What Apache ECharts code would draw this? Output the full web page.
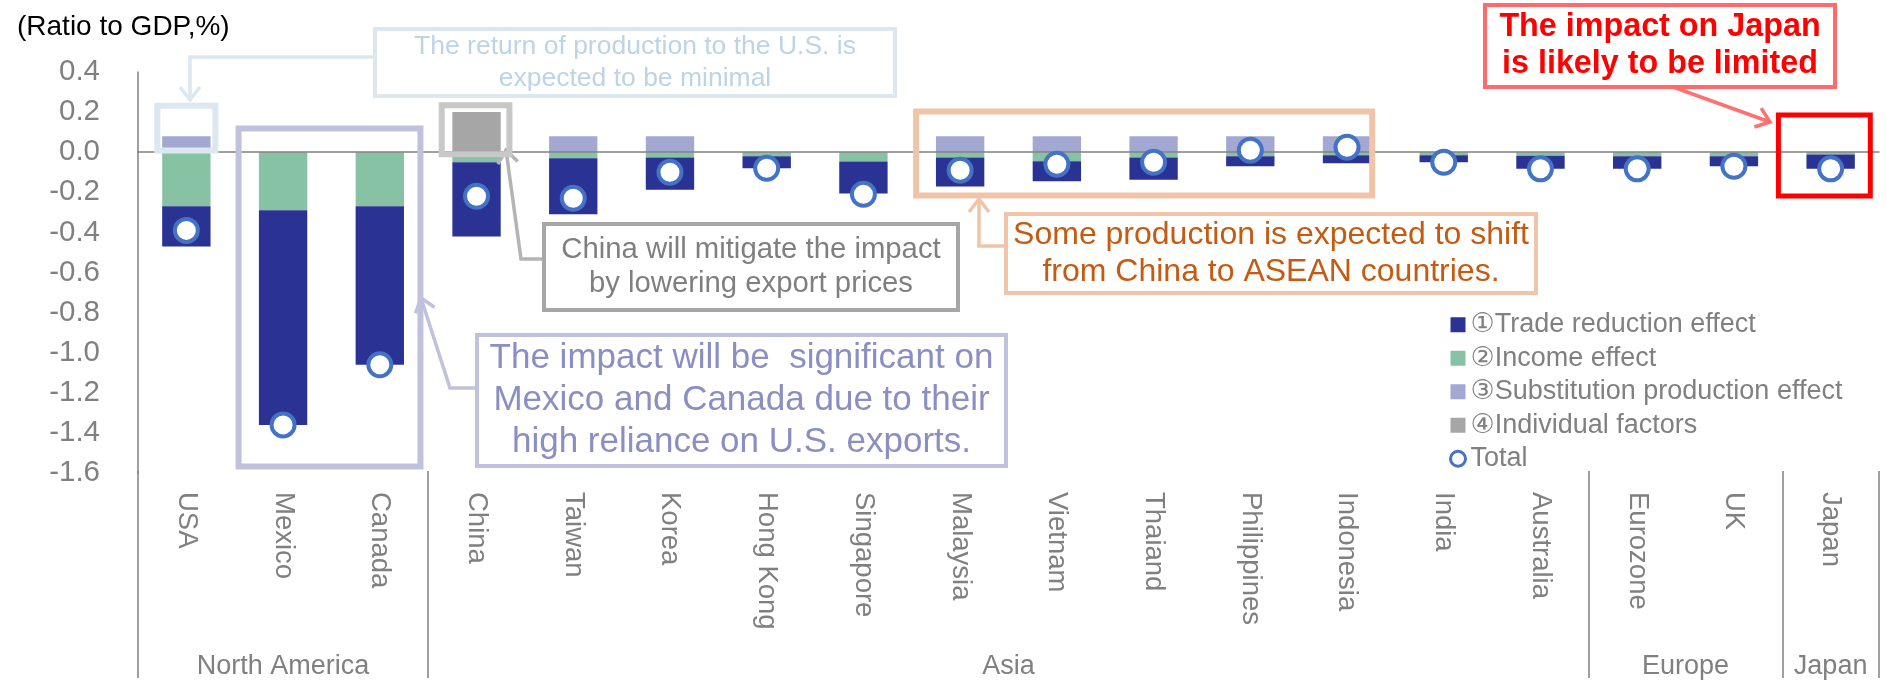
<!DOCTYPE html>
<html>
<head>
<meta charset="utf-8">
<script src="https://cdn.jsdelivr.net/npm/echarts@6/dist/echarts.min.js"></script>
<style>
  html, body { margin: 0; padding: 0; background: #fff; }
  #main { width: 1887px; height: 680px; }
</style>
</head>
<body>
<div id="main"></div>
<script>
// data (ratio to GDP, %)
var countries = ['USA', 'Mexico', 'Canada', 'China', 'Taiwan', 'Korea', 'Hong Kong', 'Singapore', 'Malaysia',
  'Vietnam', 'Thaiand', 'Philippines', 'Indonesia', 'India', 'Australia', 'Eurozone', 'UK', 'Japan'];
var tradeEffect = [-0.20, -1.07, -0.79, -0.37, -0.28, -0.16, -0.06, -0.16, -0.145, -0.10, -0.11, -0.05, -0.04, -0.035, -0.065, -0.063, -0.05, -0.07];
var incomeEffect = [-0.27, -0.29, -0.27, -0.05, -0.03, -0.027, -0.02, -0.046, -0.026, -0.045, -0.027, -0.02, -0.015, -0.015, -0.018, -0.02, -0.02, -0.012];
var substitutionEffect = [0.08, 0, 0, 0, 0.08, 0.08, 0, 0, 0.08, 0.08, 0.08, 0.08, 0.08, 0, 0, 0, 0, 0];
var individualFactors = [0, 0, 0, 0.20, 0, 0, 0, 0, 0, 0, 0, 0, 0, 0, 0, 0, 0, 0];
var total = [-0.39, -1.36, -1.06, -0.22, -0.23, -0.10, -0.08, -0.21, -0.09, -0.06, -0.05, 0.01, 0.025, -0.05, -0.083, -0.083, -0.07, -0.083];
var groupNames = ['North America', 'Asia', 'Europe', 'Japan'];
var groupSizes = [3, 12, 2, 1];
var seriesNames = ['①Trade reduction effect', '②Income effect', '③Substitution production effect', '④Individual factors', 'Total'];
var yMin = -1.6, yMax = 0.4, yStep = 0.2;

// group edges / centres on a 0..n value axis
var groupEdges = [0], groupCenters = [];
groupSizes.forEach(function (s) {
  var start = groupEdges[groupEdges.length - 1];
  groupCenters.push(start + s / 2);
  groupEdges.push(start + s);
});

var FONT = "'Liberation Sans', Arial, 'DejaVu Sans', 'Noto Sans CJK JP', sans-serif";
var GRAY = '#808080';
var gridBox = { left: 138, right: 8, top: 72, bottom: 207 };

var chart = echarts.init(document.getElementById('main'));
chart.setOption({
  backgroundColor: '#fff',
  animation: false,
  textStyle: { fontFamily: FONT },
  title: {
    text: '(Ratio to GDP,%)', left: 12, top: 8,
    textStyle: { fontSize: 28, fontWeight: 'normal', color: '#000', fontFamily: FONT }
  },
  legend: {
    orient: 'vertical', left: 1444, top: 303,
    itemWidth: 15, itemHeight: 15, itemGap: 0,
    textStyle: { fontSize: 27, color: GRAY, lineHeight: 33.5, fontFamily: FONT },
    data: [
      { name: seriesNames[0], icon: 'rect' },
      { name: seriesNames[1], icon: 'rect' },
      { name: seriesNames[2], icon: 'rect' },
      { name: seriesNames[3], icon: 'rect' },
      { name: seriesNames[4], icon: 'circle', itemStyle: { color: '#fff', borderColor: '#4472C4', borderWidth: 3 } }
    ]
  },
  grid: [Object.assign({}, gridBox), Object.assign({}, gridBox), Object.assign({}, gridBox)],
  xAxis: [
    { // zero line
      gridIndex: 0, type: 'category', data: countries, z: 5,
      axisLine: { onZero: true, lineStyle: { color: GRAY, width: 1.5 } },
      axisTick: { show: false }, axisLabel: { show: false }
    },
    { // country labels
      gridIndex: 1, type: 'category', data: countries, position: 'bottom',
      axisLine: { show: false, onZero: false }, axisTick: { show: false },
      axisLabel: { interval: 0, rotate: -90, margin: 19, fontSize: 27.5, color: GRAY, fontFamily: FONT }
    },
    { // region separators and names
      gridIndex: 2, type: 'value', min: 0, max: countries.length, position: 'bottom',
      axisLine: { show: false, onZero: false }, splitLine: { show: false },
      axisTick: { show: true, length: 207, customValues: groupEdges, lineStyle: { color: GRAY, width: 1.5 } },
      axisLabel: {
        customValues: groupCenters, margin: 182, fontSize: 27, color: GRAY, fontFamily: FONT,
        formatter: function (v) { return groupNames[groupCenters.indexOf(v)] || ''; }
      }
    }
  ],
  yAxis: [
    {
      gridIndex: 0, type: 'value', min: yMin, max: yMax, interval: yStep,
      axisLine: { show: true, lineStyle: { color: GRAY, width: 1.5 } },
      axisTick: { show: false }, splitLine: { show: false },
      axisLabel: {
        margin: 38, fontSize: 29.5, color: GRAY, fontFamily: FONT,
        formatter: function (v) { return Math.abs(v) < 1e-9 ? '0.0' : v.toFixed(1); }
      }
    },
    { gridIndex: 1, type: 'value', min: yMin, max: yMax, show: false },
    { gridIndex: 2, type: 'value', min: yMin, max: yMax, show: false }
  ],
  series: [
    { name: seriesNames[1], type: 'bar', stack: 'all', barWidth: '50%', data: incomeEffect, itemStyle: { color: '#87C2A5' } },
    { name: seriesNames[0], type: 'bar', stack: 'all', barWidth: '50%', data: tradeEffect, itemStyle: { color: '#2A3293' } },
    { name: seriesNames[2], type: 'bar', stack: 'all', barWidth: '50%', data: substitutionEffect, itemStyle: { color: '#A3A8D3' } },
    { name: seriesNames[3], type: 'bar', stack: 'all', barWidth: '50%', data: individualFactors, itemStyle: { color: '#A6A6A6' } },
    {
      name: seriesNames[4], type: 'scatter', data: total, z: 10,
      symbol: 'circle', symbolSize: 23,
      itemStyle: { color: '#fff', borderColor: '#4472C4', borderWidth: 4, opacity: 1 }
    }
  ]
});

// ---- annotations ----
function px(i, v) { return chart.convertToPixel({ xAxisIndex: 0, yAxisIndex: 0 }, [i, v]); }
var band = px(1, 0)[0] - px(0, 0)[0];

function hiBox(i0, i1, padL, padR, vTop, vBot, color, w) {
  var a = px(i0, vTop), b = px(i1, vBot);
  var x0 = a[0] - padL * band, x1 = b[0] + padR * band;
  return { type: 'rect', z: 100, shape: { x: x0, y: a[1], width: x1 - x0, height: b[1] - a[1] },
    style: { fill: null, stroke: color, lineWidth: w } };
}
function note(x, y, w, h, stroke, lines, size, color, lh, bold) {
  return [
    { type: 'rect', z: 100, shape: { x: x, y: y, width: w, height: h }, style: { fill: '#fff', stroke: stroke, lineWidth: 4 } },
    { type: 'text', z: 101, x: x + w / 2, y: y + h / 2,
      style: { text: lines.join('\n'), align: 'center', verticalAlign: 'middle', fontSize: size,
        fontFamily: FONT, fontWeight: bold ? 'bold' : 'normal', fill: color, lineHeight: lh } }
  ];
}
function arrow(points, color) {
  var n = points.length, t = points[n - 1], s = points[n - 2];
  var dx = t[0] - s[0], dy = t[1] - s[1], len = Math.sqrt(dx * dx + dy * dy);
  var ux = dx / len, uy = dy / len, hl = 13, hw = 10;
  var l = [t[0] - ux * hl - uy * hw, t[1] - uy * hl + ux * hw];
  var r = [t[0] - ux * hl + uy * hw, t[1] - uy * hl - ux * hw];
  var st = { stroke: color, lineWidth: 3.5, fill: null };
  return [
    { type: 'polyline', z: 99, shape: { points: points }, style: st },
    { type: 'polyline', z: 99, shape: { points: [l, t, r] }, style: st }
  ];
}

var els = [];
// highlight boxes round bars
els.push(hiBox(0, 0, 0.3, 0.3, 0.232, 0.008, '#DCE7EF', 6));
els.push(hiBox(1, 2, 0.46, 0.42, 0.118, -1.567, '#C0C1DD', 6));
els.push(hiBox(3, 3, 0.36, 0.34, 0.234, -0.01, '#C8C8C8', 6));
els.push(hiBox(8, 12, 0.455, 0.26, 0.203, -0.216, '#F0C4A8', 6));
els.push(hiBox(17, 17, 0.54, 0.41, 0.185, -0.218, '#FF0000', 5));
// arrows
els = els.concat(arrow([[375, 57], [190, 57], [190, 100]], '#DCE7EF'));
els = els.concat(arrow([[477, 388], [450, 388], [421, 298]], '#C0C1DD'));
els = els.concat(arrow([[544, 259], [521, 259], [506, 150]], '#B4B4B4'));
els = els.concat(arrow([[1006, 246], [979, 246], [979, 199]], '#F0C4A8'));
els = els.concat(arrow([[1673, 87], [1770, 122]], '#FF7070'));
// text notes
els = els.concat(note(375, 29, 520, 67, '#DCE7EF',
  ['The return of production to the U.S. is', 'expected to be minimal'], 26.5, '#BDD3E6', 32));
els = els.concat(note(477, 335, 529, 131, '#C0C1DD',
  ['The impact will be  significant on', 'Mexico and Canada due to their', 'high reliance on U.S. exports.'], 35, '#8B8EC2', 42));
els = els.concat(note(544, 224, 414, 86, '#A6A6A6',
  ['China will mitigate the impact', 'by lowering export prices'], 29.3, '#7F7F7F', 34));
els = els.concat(note(1006, 214, 530, 79, '#F0C4A8',
  ['Some production is expected to shift', 'from China to ASEAN countries.'], 32, '#C55A11', 37));
els = els.concat(note(1485, 5, 350, 82, '#FF6B6B',
  ['The impact on Japan', 'is likely to be limited'], 32.3, '#FF0000', 37, true));

chart.setOption({ graphic: els });
</script>
</body>
</html>
